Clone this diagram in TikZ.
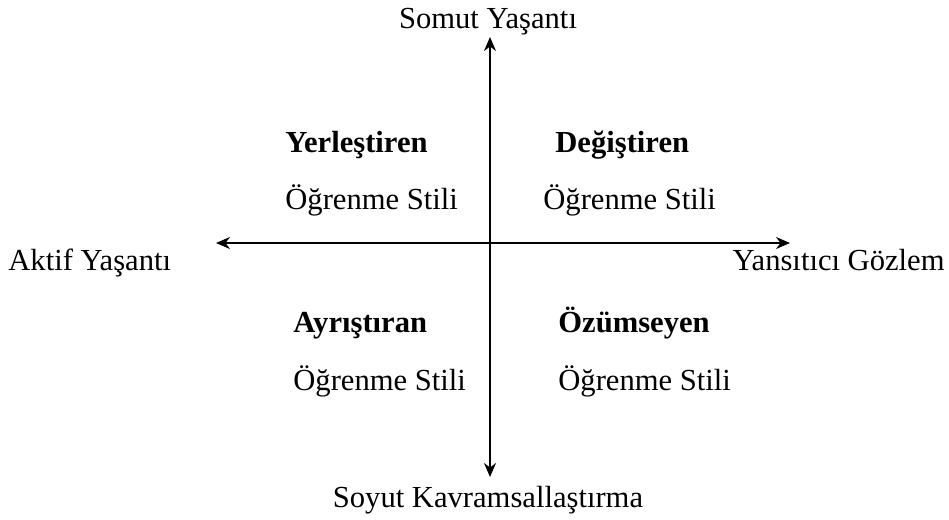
\documentclass[tikz,border=0pt]{standalone}
\usepackage{fontspec}
\setmainfont{Liberation Serif}
\usetikzlibrary{arrows.meta}
\begin{document}
\begin{tikzpicture}[x=0.5pt,y=-0.5pt,>={Stealth[length=7pt,width=6pt]},
    lbl/.style={font=\fontsize{15.3}{18}\selectfont, inner sep=0pt},
    stil/.style={lbl, font=\fontsize{15.3}{18}\selectfont\bfseries}]
    \useasboundingbox (0,0) rectangle (949,520);
    % --- axes ---
    \coordinate (top) at (490,37);
    \coordinate (bot) at (490,477);
    \coordinate (lft) at (216,243);
    \coordinate (rgt) at (790,243);
    \draw[<->,line width=1pt] (bot) -- (top);
    \draw[<->,line width=1pt] (lft) -- (rgt);
    % --- axis labels ---
    \node[lbl,anchor=base] (somut) at (488,28) {Somut Yaşantı};
    \node[lbl,anchor=base] (soyut) at (488,507) {Soyut Kavramsallaştırma};
    \node[lbl,anchor=base west] (aktif) at (8,270) {Aktif Yaşantı};
    \node[lbl,anchor=base east] (yansit) at (945,270) {Yansıtıcı Gözlem};
    % --- the four styles ---
    \node[stil,anchor=base west] (yer) at (285,152) {Yerleştiren};
    \node[lbl,anchor=base west] (yers) at (285,209) {Öğrenme Stili};
    \node[stil,anchor=base west] (deg) at (555,152) {Değiştiren};
    \node[lbl,anchor=base west] (degs) at (543,209) {Öğrenme Stili};
    \node[stil,anchor=base west] (ayr) at (293,332) {Ayrıştıran};
    \node[lbl,anchor=base west] (ayrs) at (293,390) {Öğrenme Stili};
    \node[stil,anchor=base west] (ozu) at (558,332) {Özümseyen};
    \node[lbl,anchor=base west] (ozus) at (558,390) {Öğrenme Stili};
\end{tikzpicture}
\end{document}
